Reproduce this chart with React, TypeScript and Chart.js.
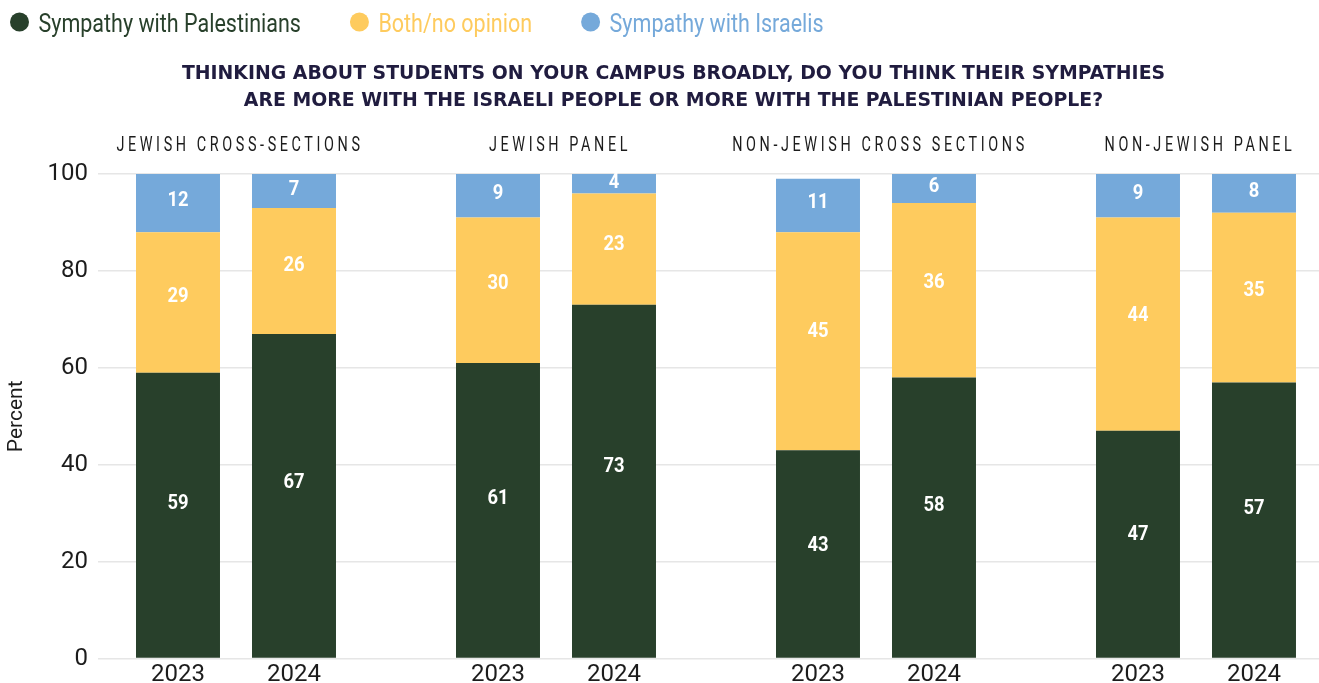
import React, { useEffect, useRef } from 'react';
import { Chart, registerables } from 'chart.js';

Chart.register(...registerables);

// ---------- data ----------
const GROUPS = ['JEWISH CROSS-SECTIONS', 'JEWISH PANEL', 'NON-JEWISH CROSS SECTIONS', 'NON-JEWISH PANEL'];
const YEARS = ['2023', '2024'];
const SERIES = ['Sympathy with Palestinians', 'Both/no opinion', 'Sympathy with Israelis'];
const PAL_2023 = [59, 61, 43, 47];
const BOTH_2023 = [29, 30, 45, 44];
const ISR_2023 = [12, 9, 11, 9];
const PAL_2024 = [67, 73, 58, 57];
const BOTH_2024 = [26, 23, 36, 35];
const ISR_2024 = [7, 4, 6, 8];
const Y_TICKS = [0, 20, 40, 60, 80, 100];
const TITLE_LINES = [
  'THINKING ABOUT STUDENTS ON YOUR CAMPUS BROADLY, DO YOU THINK THEIR SYMPATHIES',
  'ARE MORE WITH THE ISRAELI PEOPLE OR MORE WITH THE PALESTINIAN PEOPLE?',
];
const Y_TITLE = 'Percent';

// ---------- styles ----------
const COLORS = ['#28402b', '#fecb5e', '#75a9da'];
const TITLE_COLOR = '#201c3f';
const TEXT_COLOR = '#1c1c1c';
const GRID_COLOR = '#e6e6e6';
const W = 1319;
const H = 683;

const BY_YEAR = [
  [PAL_2023, BOTH_2023, ISR_2023],
  [PAL_2024, BOTH_2024, ISR_2024],
];

type TextOpts = {
  font: string;
  color: string;
  align?: 'left' | 'center' | 'right';
  baseline?: CanvasTextBaseline;
  scaleX?: number;
  spacing?: string;
};

function drawText(ctx: CanvasRenderingContext2D, text: string, x: number, y: number, o: TextOpts) {
  ctx.save();
  ctx.font = o.font;
  ctx.fillStyle = o.color;
  ctx.textBaseline = o.baseline ?? 'alphabetic';
  ctx.textAlign = 'left';
  (ctx as any).letterSpacing = o.spacing ?? '0px';
  const sx = o.scaleX ?? 1;
  const w = ctx.measureText(text).width * sx;
  let x0 = x;
  if (o.align === 'center') x0 = x - w / 2;
  else if (o.align === 'right') x0 = x - w;
  ctx.translate(x0, y);
  ctx.scale(sx, 1);
  ctx.fillText(text, 0, 0);
  ctx.restore();
  return w;
}

const decorPlugin = {
  id: 'decor',
  afterDatasetsDraw(chart: any) {
    const ctx: CanvasRenderingContext2D = chart.ctx;
    // value labels inside segments
    chart.data.datasets.forEach((ds: any, di: number) => {
      const meta = chart.getDatasetMeta(di);
      meta.data.forEach((el: any, i: number) => {
        const v = ds.data[i].y;
        const h = Math.abs(el.base - el.y);
        const cy = (el.y + el.base) / 2 - h * 0.04;
        drawText(ctx, String(v), el.x, cy, {
          font: 'bold 20px Roboto',
          color: '#ffffff',
          align: 'center',
          baseline: 'middle',
          scaleX: 0.92,
        });
      });
    });
  },
  afterDraw(chart: any) {
    const ctx: CanvasRenderingContext2D = chart.ctx;
    const area = chart.chartArea;
    const xs = chart.scales.x;

    // legend
    let x = 10;
    SERIES.forEach((name, s) => {
      const cx = x + 9.5;
      ctx.save();
      ctx.fillStyle = COLORS[s];
      ctx.beginPath();
      ctx.arc(cx, 22, 9.5, 0, Math.PI * 2);
      ctx.fill();
      ctx.restore();
      const w = drawText(ctx, name, cx + 19, 31.5, {
        font: '25px Roboto',
        color: COLORS[s],
        scaleX: 0.86,
      });
      x = cx + 19 + w + 49;
    });

    // title
    const tcx = W / 2 + 14;
    TITLE_LINES.forEach((line, i) => {
      drawText(ctx, line, tcx, 78.5 + i * 27.5, {
        font: 'bold 19px "DejaVu Sans"',
        color: TITLE_COLOR,
        align: 'center',
        scaleX: 0.993,
      });
    });

    // group labels
    GROUPS.forEach((g, i) => {
      drawText(ctx, g, xs.getPixelForValue(i) + 4, area.top - 23, {
        font: '20px Roboto',
        color: TEXT_COLOR,
        align: 'center',
        scaleX: 0.72,
        spacing: '5px',
      });
    });

    // year labels under each bar
    YEARS.forEach((yr, yi) => {
      const meta = chart.getDatasetMeta(yi * SERIES.length);
      meta.data.forEach((el: any) => {
        drawText(ctx, yr, el.x, area.bottom + 22.5, {
          font: '24px Roboto',
          color: TEXT_COLOR,
          align: 'center',
        });
      });
    });
  },
};

export default function App() {
  const ref = useRef<HTMLCanvasElement>(null);

  useEffect(() => {
    const canvas = ref.current;
    if (!canvas) return;

    const datasets: any[] = [];
    YEARS.forEach((yr, yi) => {
      SERIES.forEach((name, s) => {
        datasets.push({
          label: name,
          stack: yr,
          data: BY_YEAR[yi][s].map((v, i) => ({ x: i, y: v })),
          backgroundColor: COLORS[s],
          borderWidth: 0,
          categoryPercentage: 0.725,
          barPercentage: 0.724,
        });
      });
    });

    const chart = new Chart(canvas, {
      type: 'bar',
      data: { datasets },
      plugins: [decorPlugin],
      options: {
        animation: false,
        responsive: false,
        devicePixelRatio: 1,
        layout: { padding: { top: 174, bottom: 23, left: 0, right: 0 } },
        plugins: {
          legend: { display: false },
          title: { display: false },
          tooltip: { enabled: false },
        },
        scales: {
          x: {
            type: 'linear',
            display: false,
            stacked: true,
            min: -0.43125,
            max: 3.3844,
            offset: false,
            ticks: { stepSize: 1, includeBounds: false },
          },
          y: {
            stacked: true,
            min: 0,
            max: 100,
            afterBuildTicks: (s: any) => {
              s.ticks = Y_TICKS.map((v) => ({ value: v }));
            },
            afterFit: (s: any) => {
              s.width = 98;
            },
            border: { display: false },
            grid: { color: GRID_COLOR, lineWidth: 1.5, drawTicks: false },
            ticks: {
              padding: 10,
              color: TEXT_COLOR,
              font: { family: 'Roboto', size: 24 },
            },
            title: {
              display: true,
              text: Y_TITLE,
              color: TEXT_COLOR,
              font: { family: 'Roboto', size: 21 },
              padding: { top: 4, bottom: 0 },
            },
          },
        },
      } as any,
    });

    return () => chart.destroy();
  }, []);

  return (
    <div style={{ position: 'fixed', left: 0, top: 0, width: W, height: H, background: '#ffffff' }}>
      <canvas ref={ref} width={W} height={H} style={{ display: 'block', width: W, height: H }} />
    </div>
  );
}
